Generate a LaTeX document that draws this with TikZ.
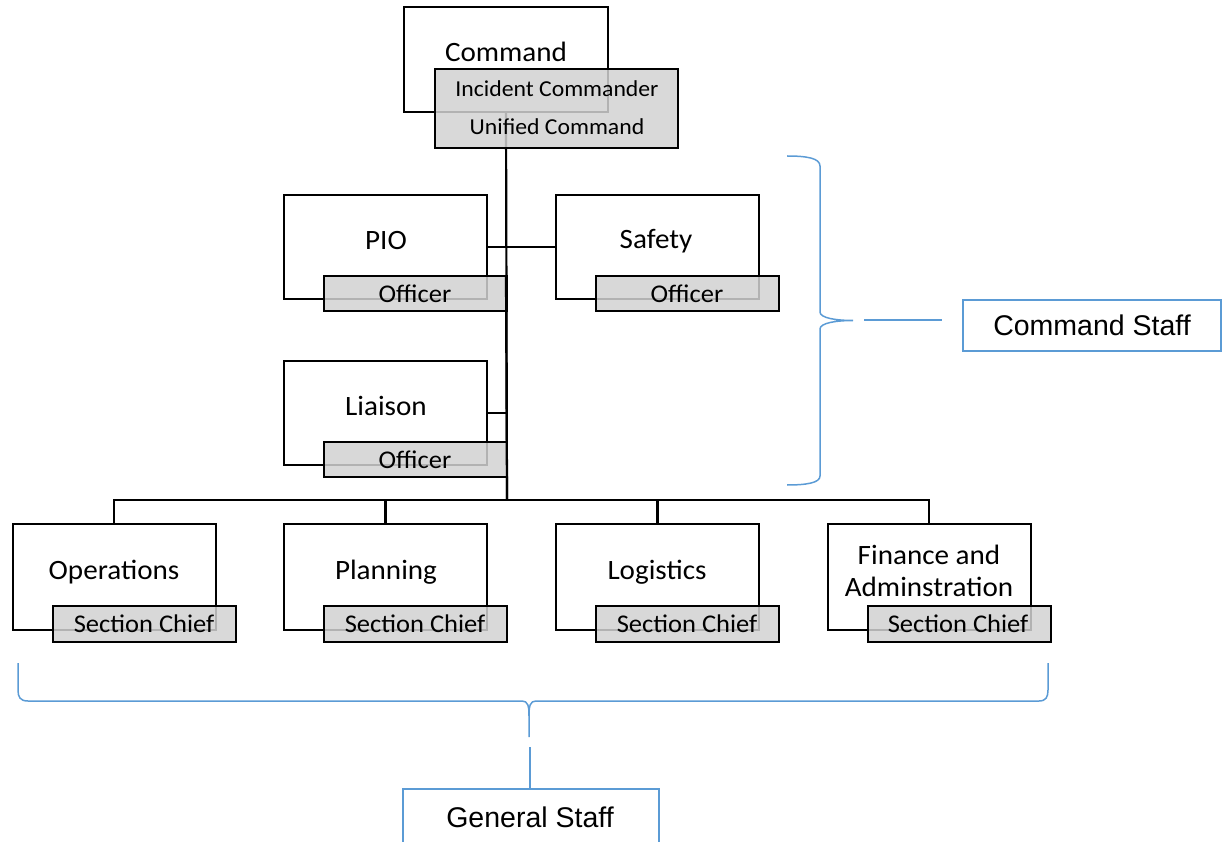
\documentclass[tikz,border=0pt]{standalone}
\usepackage{fontspec}
\setmainfont[FakeStretch=1.04]{Carlito}
\newfontfamily\arialf{Liberation Sans}
\definecolor{bracec}{HTML}{5B9BD5}
\definecolor{rolec}{HTML}{D2D2D2}
\tikzset{
  unitbox/.style={draw=black, line width=2pt, fill=white, inner sep=0pt, minimum width=203pt, minimum height=104pt},
  rolebox/.style={draw=black, line width=2pt, fill=rolec, fill opacity=0.85, text opacity=1, inner sep=0pt, minimum width=183pt, minimum height=35pt},
  titletxt/.style={font=\fontsize{28}{32.5}\selectfont, inner sep=0pt, align=center},
  roletxt/.style={font=\fontsize{25.5}{29}\selectfont, inner sep=0pt},
  ictxt/.style={font=\fontsize{22.8}{26}\selectfont, inner sep=0pt},
  conn/.style={draw=black, line width=2.2pt},
  bluel/.style={draw=bracec, line width=1.5pt},
  staffbox/.style={draw=bracec, line width=2.2pt, fill=white, inner sep=0pt, font=\arialf\fontsize{28.5}{33}\selectfont}
}
\begin{document}
\begin{tikzpicture}[x=1pt,y=-1pt]
\useasboundingbox (0,0) rectangle (1227,842);
% coordinates
\coordinate (bus) at (507,500);
% command
\node[unitbox] (cmd) at (506,59.5) [minimum width=204pt, minimum height=105pt] {};
\draw[conn] (cmd.south) -- (bus);
% command staff
\node[unitbox] (pio) at (385.5,247) {};
\node[unitbox] (safety) at (657.5,247) {};
\node[unitbox] (liaison) at (385.5,413) {};
\draw[conn] (pio.east) -- (safety.west);
\draw[conn] (liaison.east) -- (liaison.east -| bus);
% general staff
\node[unitbox] (ops) at (114,577) [minimum height=106pt] {};
\node[unitbox] (plan) at (385.5,577) [minimum height=106pt] {};
\node[unitbox] (logi) at (657.5,577) [minimum height=106pt] {};
\node[unitbox] (fin) at (929,577) [minimum height=106pt] {};
\draw[conn] (ops.north) -- (ops.north |- bus) -- (fin.north |- bus) -- (fin.north);
\draw[conn] (plan.north) -- (plan.north |- bus);
\draw[conn] (logi.north) -- (logi.north |- bus);
% role boxes
\node[rolebox] (cmdrole) at (556.5,108.5) [minimum width=243pt, minimum height=79pt] {};
\node[rolebox] (pior) at (415.5,294) {};
\node[rolebox] (safetyr) at (687.5,294) {};
\node[rolebox] (liaisonr) at (415.5,459.5) {};
\node[rolebox] (opsr) at (144.5,624) [minimum height=36pt] {};
\node[rolebox] (planr) at (415.5,624) [minimum height=36pt] {};
\node[rolebox] (logir) at (687.5,624) [minimum height=36pt] {};
\node[rolebox] (finr) at (959,624) [minimum height=36pt] {};
\draw[conn] (cmd.south |- pior.north) -- (bus);
% texts
\node[titletxt] (cmdt) at (506,52) {Command};
\node[ictxt] (ict) at (557,89) {Incident Commander};
\node[ictxt] (uct) at (557,127) {Unified Command};
\node[titletxt] (piot) at (386,241) {PIO};
\node[titletxt] (safetyt) at (656,241) {Safety};
\node[titletxt] (liaisont) at (386,406) {Liaison};
\node[roletxt] (piort) at (415,294) {Officer};
\node[roletxt] (safetyrt) at (687,294) {Officer};
\node[roletxt] (liaisonrt) at (415,460) {Officer};
\node[titletxt] (opst) at (114,572) {Operations};
\node[titletxt] (plant) at (386,572) {Planning};
\node[titletxt] (logit) at (657,572) {Logistics};
\node[titletxt] (fint) at (929,571) {Finance and\\Adminstration};
\node[roletxt] (opsrt) at (144,624) {Section Chief};
\node[roletxt] (planrt) at (415,624) {Section Chief};
\node[roletxt] (logirt) at (687,624) {Section Chief};
\node[roletxt] (finrt) at (958,624) {Section Chief};
% right brace
\draw[bluel] (787,156) .. controls (806,156) and (820,158) .. (820,166)
  -- (820,312) .. controls (820,318) and (836,320.5) .. (853,320.5)
  .. controls (836,320.5) and (820,323) .. (820,329)
  -- (820,476) .. controls (820,483) and (806,485) .. (787,485);
\node[staffbox, minimum width=258pt, minimum height=51pt] (cstaff) at (1092,325.5) {Command Staff};
\coordinate (cbr1) at (864,320);
\coordinate (cbr2) at (942,320);
\draw[bluel, line width=1.9pt] (cbr1) -- (cbr2);
% bottom brace
\draw[bluel] (18,663) -- (18,690) .. controls (18,697) and (20,701) .. (28,701)
  -- (522,701) .. controls (528,701) and (529,706) .. (529,716) -- (529,737);
\draw[bluel] (529,716) .. controls (529,706) and (530,701) .. (536,701)
  -- (1039,701) .. controls (1046,701) and (1048,697) .. (1048,690) -- (1048,663);
\node[staffbox, minimum width=256pt, minimum height=80pt, anchor=north] (gstaff) at (531,788) {};
\node[font=\arialf\fontsize{28.5}{33}\selectfont, inner sep=0pt] (gstafft) at (530,817) {General Staff};
\coordinate (gbr) at (530,747);
\draw[bluel, line width=1.9pt] (gbr) -- (gstaff.north -| gbr);
\end{tikzpicture}
\end{document}
